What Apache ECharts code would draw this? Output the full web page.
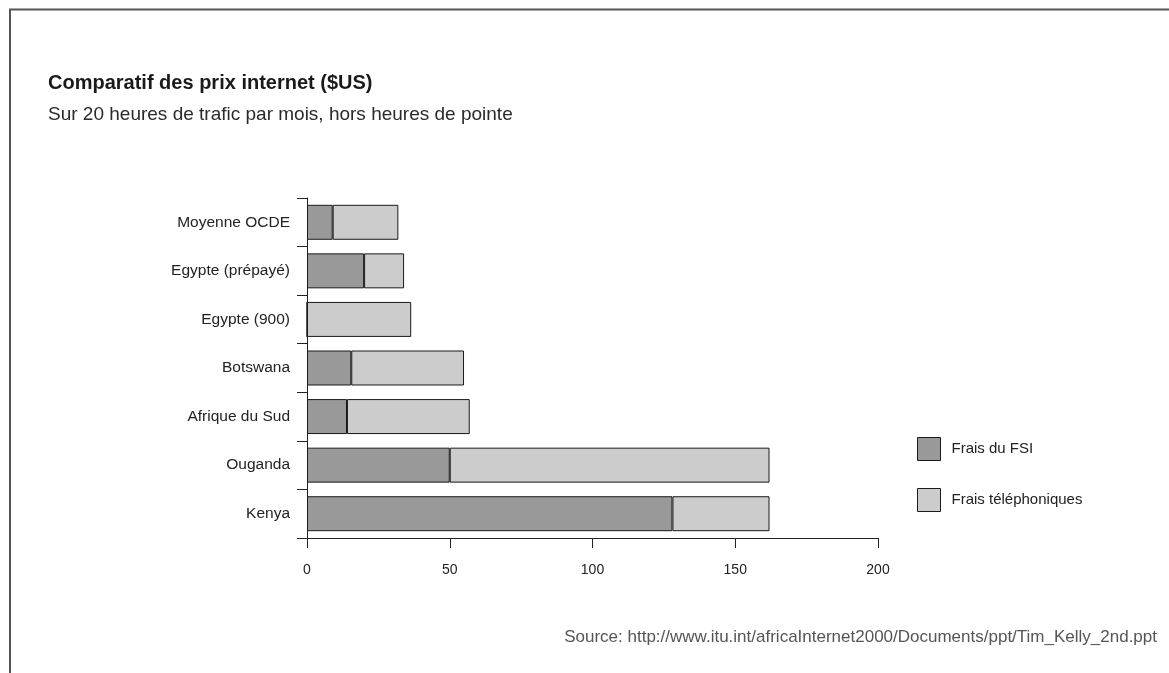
<!DOCTYPE html>
<html>
<head>
<meta charset="utf-8">
<script src="https://cdn.jsdelivr.net/npm/echarts@6/dist/echarts.min.js"></script>
<style>
  html, body { margin: 0; padding: 0; background: #fff; }
  #main { width: 1169px; height: 673px; }
</style>
</head>
<body>
<div id="main"></div>
<script>
// pays, de bas en haut
var pays = ['Kenya', 'Ouganda', 'Afrique du Sud', 'Botswana', 'Egypte (900)', 'Egypte (prépayé)', 'Moyenne OCDE'];
// frais du fournisseur d'accès
var fraisFSI = [128, 50, 14, 15.5, 0, 20, 9];
// frais téléphoniques
var fraisTel = [34, 112, 43, 39.5, 36.5, 14, 23];
var ticksX = [0, 50, 100, 150, 200];

var myChart = echarts.init(document.getElementById('main'));
var police = '"Liberation Sans", Arial, sans-serif';

var option = {
    animation: false,
    textStyle: { fontFamily: police },
    title: [
        {
            text: 'Comparatif des prix internet ($US)',
            left: 43, top: 68,
            textStyle: { fontSize: 20, fontWeight: 'bold', color: '#1a1a1a', fontFamily: police }
        },
        {
            text: 'Sur 20 heures de trafic par mois, hors heures de pointe',
            left: 43, top: 100,
            textStyle: { fontSize: 19, fontWeight: 'normal', color: '#2a2a2a', fontFamily: police }
        },
        {
            text: 'Source: http://www.itu.int/africaInternet2000/Documents/ppt/Tim_Kelly_2nd.ppt',
            right: 7, top: 624,
            textStyle: { fontSize: 17, fontWeight: 'normal', color: '#555', fontFamily: police }
        }
    ],
    graphic: [
        {
            type: 'polyline',
            shape: { points: [[10, 673], [10, 9.5], [1169, 9.5]] },
            style: { stroke: '#555', lineWidth: 2, fill: null }
        }
    ],
    legend: {
        orient: 'vertical',
        left: 917, top: 437, padding: 0,
        itemWidth: 23, itemHeight: 23, itemGap: 27,
        icon: 'rect',
        itemStyle: { borderWidth: 1, borderColor: '#1a1a1a' },
        textStyle: { fontSize: 15, color: '#222', padding: [0, 0, 0, 6] },
        data: ['Frais du FSI', 'Frais téléphoniques']
    },
    grid: { left: 307, right: 291, top: 198, bottom: 135 },
    xAxis: {
        type: 'value',
        min: 0, max: 200, interval: 50,
        splitLine: { show: false },
        axisLine: { show: true, lineStyle: { color: '#222', width: 1 } },
        axisTick: { show: true, length: 10, lineStyle: { color: '#222' } },
        axisLabel: {
            fontSize: 14, color: '#222', margin: 25,
            formatter: function (v) { return ticksX.indexOf(v) >= 0 ? String(v) : ''; }
        }
    },
    yAxis: {
        type: 'category',
        data: pays,
        axisLine: { show: true, lineStyle: { color: '#222', width: 1 } },
        axisTick: { show: true, length: 10, lineStyle: { color: '#222' } },
        axisLabel: { fontSize: 15.5, color: '#222', margin: 17 }
    },
    series: [
        {
            name: 'Frais du FSI',
            type: 'bar',
            stack: 'total',
            barCategoryGap: '28%',
            data: fraisFSI,
            itemStyle: { color: '#999999', borderColor: '#1a1a1a', borderWidth: 1 }
        },
        {
            name: 'Frais téléphoniques',
            type: 'bar',
            stack: 'total',
            barCategoryGap: '28%',
            data: fraisTel,
            itemStyle: { color: '#cccccc', borderColor: '#1a1a1a', borderWidth: 1 }
        }
    ]
};

myChart.setOption(option);
</script>
</body>
</html>
